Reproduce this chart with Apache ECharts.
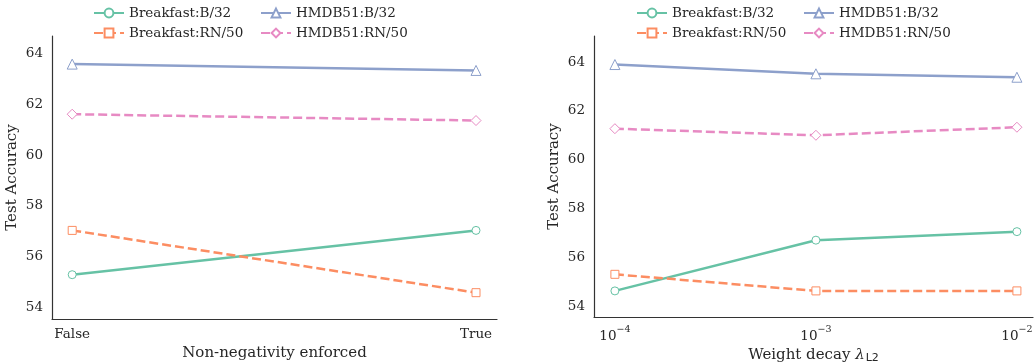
<!DOCTYPE html>
<html>
<head>
<meta charset="utf-8">
<script src="https://cdn.jsdelivr.net/npm/echarts@6/dist/echarts.min.js"></script>
<style>
  html, body { margin: 0; padding: 0; background: #fff; }
  #chart { width: 1035px; height: 362px; }
</style>
</head>
<body>
<div id="chart"></div>
<script>
// left panel: non-negativity enforced (False / True)
const leftCats = ['False', 'True']
const leftX = [0, 1]
const leftBreakfastB32 = [55.28, 57.03]
const leftBreakfastRN50 = [57.03, 54.57]
const leftHmdbB32 = [63.6, 63.35]
const leftHmdbRN50 = [61.62, 61.37]

// right panel: weight decay, x kept as log10 exponent
const rightExp = [-4, -3, -2]
const rightBreakfastB32 = [54.62, 56.7, 57.05]
const rightBreakfastRN50 = [55.3, 54.62, 54.62]
const rightHmdbB32 = [63.9, 63.52, 63.38]
const rightHmdbRN50 = [61.27, 61.0, 61.33]

const yTicks = [54, 56, 58, 60, 62, 64]

const seriesNames = ['Breakfast:B/32', 'Breakfast:RN/50', 'HMDB51:B/32', 'HMDB51:RN/50']
const colors = ['#66c2a5', '#fc8d62', '#8da0cb', '#e78ac3']
const symbols = ['circle', 'rect', 'triangle', 'diamond']
const dashed = [false, true, false, true]

const font = 'DejaVu Serif'
const textColor = '#262626'

const chart = echarts.init(document.getElementById('chart'))

const makeSeries = (idx, xs, ys, gridIdx) => ({
  name: seriesNames[idx],
  type: 'line',
  xAxisIndex: gridIdx,
  yAxisIndex: gridIdx,
  data: xs.map((x, i) => [x, ys[i]]),
  symbol: symbols[idx],
  symbolSize: idx === 2 || idx === 3 ? 10 : 8,
  showSymbol: true,
  itemStyle: { color: '#fff', borderColor: colors[idx], borderWidth: 1 },
  lineStyle: { color: colors[idx], width: 2.5, type: dashed[idx] ? [9, 4] : 'solid' },
  emphasis: { disabled: true },
  animation: false,
})

// legends: 2 cols x 2 rows per panel, one component per item
const legendPos = [
  // [left col x, right col x]
  [93, 260],
  [636, 803],
]
const legends = []
legendPos.forEach((cols) => {
  seriesNames.forEach((name, i) => {
    const col = i < 2 ? 0 : 1
    const row = i % 2
    legends.push({
      data: [name],
      left: cols[col],
      top: row === 0 ? 6 : 26,
      padding: 0,
      itemWidth: 30,
      itemHeight: 11,
      itemGap: 6,
      selectedMode: false,
      textStyle: { fontFamily: font, fontSize: 13.5, color: textColor },
    })
  })
})

const yAxisBase = () => ({
  type: 'value',
  name: 'Test Accuracy',
  nameLocation: 'middle',
  nameGap: 32,
  nameTextStyle: { fontFamily: font, fontSize: 15, color: textColor },
  splitLine: { show: false },
  axisTick: { show: false },
  axisLine: { show: true, onZero: false, lineStyle: { color: '#333', width: 1.2 } },
  axisLabel: {
    customValues: yTicks,
    fontFamily: font,
    fontSize: 13.5,
    color: textColor,
    margin: 9,
  },
})

const option = {
  backgroundColor: '#fff',
  animation: false,
  legend: legends,
  grid: [
    { left: 52, top: 36, width: 445, bottom: 43, containLabel: false, outerBoundsMode: 'none' },
    { left: 594, top: 36, width: 439, bottom: 45, containLabel: false, outerBoundsMode: 'none' },
  ],
  xAxis: [
    {
      type: 'value',
      gridIndex: 0,
      min: -0.05,
      max: 1.052,
      name: 'Non-negativity enforced',
      nameLocation: 'middle',
      nameGap: 26,
      nameTextStyle: { fontFamily: font, fontSize: 15, color: textColor },
      splitLine: { show: false },
      axisTick: { show: false },
      axisLine: { onZero: false, lineStyle: { color: '#333', width: 1.2 } },
      axisLabel: {
        customValues: leftX,
        formatter: (v) => leftCats[Math.round(v)],
        fontFamily: font,
        fontSize: 13.5,
        color: textColor,
        margin: 8,
      },
    },
    {
      type: 'value',
      gridIndex: 1,
      min: -4.104,
      max: -1.92,
      name: '{t|Weight decay }{l|λ}{sub|L2}',
      nameLocation: 'middle',
      nameGap: 19,
      nameTextStyle: {
        fontFamily: font,
        fontSize: 15,
        color: textColor,
        rich: {
          t: { fontFamily: font, fontSize: 15, color: textColor },
          l: { fontFamily: font, fontSize: 15, fontStyle: 'italic', color: textColor },
          sub: { fontFamily: 'DejaVu Sans', fontSize: 11, color: textColor, padding: [6, 0, 0, 1] },
        },
      },
      splitLine: { show: false },
      axisTick: { show: false },
      axisLine: { onZero: false, lineStyle: { color: '#333', width: 1.2 } },
      axisLabel: {
        customValues: rightExp,
        formatter: (v) => '{b|10}{s|\u2212' + Math.abs(v) + '}',
        margin: 6,
        rich: {
          b: { fontFamily: font, fontSize: 13.5, color: textColor, padding: [6, 0, 0, 0] },
          s: { fontFamily: font, fontSize: 9.5, color: textColor, padding: [0, 0, 6, 0] },
        },
      },
    },
  ],
  yAxis: [
    Object.assign(yAxisBase(), { gridIndex: 0, min: 53.53, max: 64.71 }),
    Object.assign(yAxisBase(), { gridIndex: 1, min: 53.55, max: 65.07 }),
  ],
  series: [
    makeSeries(0, leftX, leftBreakfastB32, 0),
    makeSeries(1, leftX, leftBreakfastRN50, 0),
    makeSeries(2, leftX, leftHmdbB32, 0),
    makeSeries(3, leftX, leftHmdbRN50, 0),
    makeSeries(0, rightExp, rightBreakfastB32, 1),
    makeSeries(1, rightExp, rightBreakfastRN50, 1),
    makeSeries(2, rightExp, rightHmdbB32, 1),
    makeSeries(3, rightExp, rightHmdbRN50, 1),
  ],
}

chart.setOption(option)
window.addEventListener('resize', () => chart.resize())
</script>
</body>
</html>
